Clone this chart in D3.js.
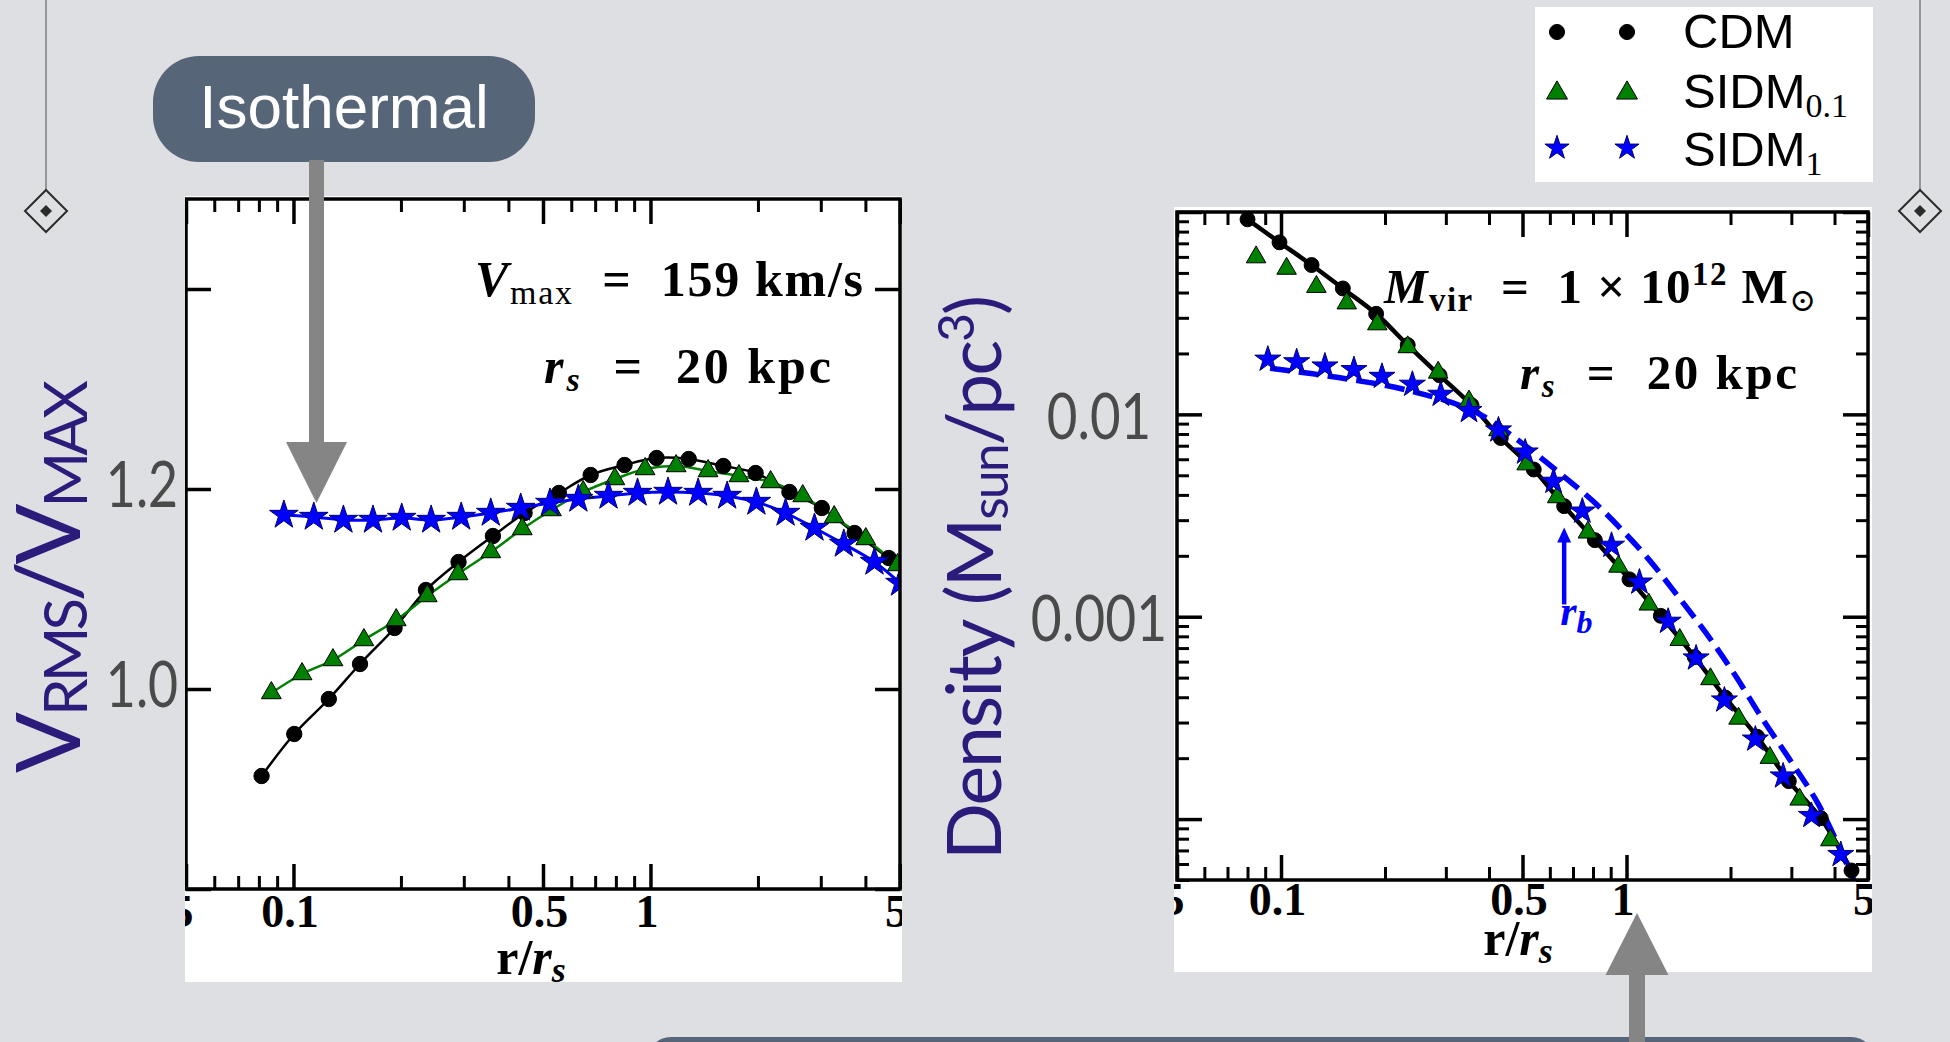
<!DOCTYPE html>
<html>
<head>
<meta charset="utf-8">
<script src="https://cdn.jsdelivr.net/npm/d3@7"></script>
<style>
  html, body { margin: 0; padding: 0; background: #dedfe2; overflow: hidden; }
  svg { display: block; }
  text { white-space: pre; }
</style>
</head>
<body>
<script>
// r / r_s ticks, same for both panels
var rTicksMajor = [0.05, 0.1, 0.5, 1, 5];
var rTickLabels = ['0.05', '0.1', '0.5', '1', '5'];
var rTicksMinor = [0.06, 0.07, 0.08, 0.09, 0.2, 0.3, 0.4, 0.6, 0.7, 0.8, 0.9, 2, 3, 4];

// left panel: V_RMS / V_MAX
var vTicks = [0.8, 1.0, 1.2, 1.4];
var vLabelTicks = [1.0, 1.2];
var vLabels = ['1.0', '1.2'];

var vCdmR = [0.0814, 0.1005, 0.1256, 0.1536, 0.192, 0.235, 0.29, 0.362, 0.444, 0.554, 0.68, 0.846, 1.04, 1.28, 1.6, 1.97, 2.45, 3.02, 3.73, 4.65];
var vCdm = [0.913, 0.955, 0.990, 1.025, 1.061, 1.099, 1.127, 1.153, 1.176, 1.196, 1.214, 1.224, 1.231, 1.230, 1.223, 1.216, 1.197, 1.181, 1.156, 1.131];

var vSidm01R = [0.0867, 0.1057, 0.129, 0.1575, 0.194, 0.237, 0.289, 0.357, 0.4375, 0.528, 0.648, 0.795, 0.966, 1.18, 1.45, 1.77, 2.17, 2.67, 3.27, 4.01, 4.92];
var vSidm01 = [0.996, 1.015, 1.029, 1.049, 1.069, 1.093, 1.115, 1.137, 1.160, 1.179, 1.197, 1.210, 1.220, 1.223, 1.218, 1.213, 1.207, 1.193, 1.172, 1.150, 1.124];

var vSidm1R = [0.094, 0.114, 0.138, 0.167, 0.201, 0.243, 0.295, 0.357, 0.433, 0.523, 0.628, 0.763, 0.92, 1.12, 1.36, 1.64, 1.98, 2.39, 2.88, 3.48, 4.24, 5.0];
var vSidm1 = [1.174, 1.172, 1.169, 1.169, 1.171, 1.169, 1.172, 1.176, 1.181, 1.186, 1.190, 1.193, 1.196, 1.197, 1.196, 1.193, 1.187, 1.176, 1.161, 1.145, 1.127, 1.106];

// right panel: density in M_sun / pc^3
var rhoLabelTicks = [1e-2, 1e-3];
var rhoLabels = ['0.01', '0.001'];

var rhoCdmR = [0.080, 0.099, 0.1226, 0.151, 0.1885, 0.2327, 0.2877, 0.356, 0.4325, 0.539, 0.66, 0.81, 1.02, 1.257, 1.576, 1.93, 2.39, 2.95, 3.65, 4.48];
var rhoCdm = [0.092, 0.0708, 0.0547, 0.0419, 0.0314, 0.0220, 0.0156, 0.0111, 0.00764, 0.00534, 0.00352, 0.00239, 0.00153, 0.00101, 0.000632, 0.000399, 0.000255, 0.000154, 0.000101, 0.0000557];

var rhoSidm01R = [0.0847, 0.1038, 0.1266, 0.155, 0.19, 0.2327, 0.285, 0.35, 0.426, 0.514, 0.63, 0.773, 0.948, 1.16, 1.426, 1.75, 2.11, 2.6, 3.17, 3.89];
var rhoSidm01 = [0.0598, 0.0525, 0.0427, 0.0354, 0.0279, 0.0215, 0.0161, 0.0116, 0.00836, 0.00567, 0.0039, 0.00261, 0.00177, 0.00115, 0.000769, 0.000492, 0.000314, 0.000201, 0.000125, 0.0000787];

var rhoSidm1R = [0.0916, 0.111, 0.134, 0.1626, 0.196, 0.24, 0.29, 0.35, 0.426, 0.509, 0.615, 0.745, 0.905, 1.09, 1.32, 1.59, 1.92, 2.36, 2.84, 3.43, 4.17];
var rhoSidm1 = [0.0187, 0.01815, 0.0173, 0.0166, 0.01538, 0.01406, 0.01254, 0.01043, 0.00836, 0.0065, 0.00466, 0.00332, 0.00225, 0.00148, 0.000948, 0.000624, 0.000387, 0.000248, 0.000163, 0.000104, 0.0000667];

// dashed cored fit for SIDM_1
var rhoFitR = [0.093, 0.1467, 0.235, 0.364, 0.498, 0.64, 0.798, 0.963, 1.163, 1.40, 1.69, 2.05, 2.47, 2.98, 3.6, 4.55];
var rhoFit = [0.0169, 0.0152, 0.0131, 0.0103, 0.00721, 0.00513, 0.00374, 0.00272, 0.00191, 0.00128, 0.000841, 0.000522, 0.000314, 0.000195, 0.0001175, 0.00005];

// r_b marker arrow
var rbR = 0.66, rbLow = 0.00115, rbHigh = 0.00276;

var legendNames = ['CDM', 'SIDM', 'SIDM'];
var legendSubs = ['', '0.1', '1'];

var W = 1950, H = 1042;
var SERIF = 'Liberation Serif, Times New Roman, serif';
var SANS = 'Liberation Sans, Arial, sans-serif';
var GILL = 'Lato, Open Sans, sans-serif';
var PURPLE = '#2b1b7b', SLATE = '#576578', ARROW = '#858585', GREY = '#4a4a4a';

var svg = d3.select('body').append('svg').attr('width', W).attr('height', H);
var defs = svg.append('defs');
svg.append('rect').attr('width', W).attr('height', H).attr('fill', '#dedfe2');

function diamond(cx, cy, r) {
  return 'M' + cx + ',' + (cy - r) + 'L' + (cx + r) + ',' + cy + 'L' + cx + ',' + (cy + r) + 'L' + (cx - r) + ',' + cy + 'Z';
}

// slide ornaments
[46, 1920].forEach(function (cx) {
  svg.append('line').attr('x1', cx).attr('x2', cx).attr('y1', 0).attr('y2', 190)
    .attr('stroke', '#7d7d7d').attr('stroke-width', 1.5);
  svg.append('path').attr('d', diamond(cx, 211, 21)).attr('fill', 'none')
    .attr('stroke', '#2b2b2b').attr('stroke-width', 2);
  svg.append('path').attr('d', diamond(cx, 211, 6)).attr('fill', '#2b2b2b');
});

// text made of pieces (sub/superscripts, italics)
function richText(parent, x, y, parts, o) {
  var t = parent.append('text').attr('x', x).attr('y', y)
    .attr('font-family', o.font).attr('fill', o.fill || '#000');
  if (o.anchor) t.attr('text-anchor', o.anchor);
  var cur = 0;
  parts.forEach(function (p) {
    var s = t.append('tspan').text(p.t).attr('font-size', p.size);
    var sh = p.shift || 0;
    if (sh !== cur) s.attr('dy', sh - cur);
    cur = sh;
    if (p.italic) s.attr('font-style', 'italic');
    if (o.bold && !p.light) s.attr('font-weight', 'bold');
    if (p.font) s.attr('font-family', p.font);
  });
  if (o.length) t.attr('textLength', o.length).attr('lengthAdjust', o.adjust || 'spacing');
  return t;
}

function styleTicks(sel, w) {
  sel.select('.domain').remove();
  sel.selectAll('.tick line').attr('stroke', '#000').attr('stroke-width', w);
}

function makePanel(id, box, x, y, yMajor, yMinor, labelPad) {
  var L = x.range()[0], R = x.range()[1], B = y.range()[0], T = y.range()[1];
  defs.append('clipPath').attr('id', id + 'Box').append('rect')
    .attr('x', box[0]).attr('y', box[1]).attr('width', box[2] - box[0]).attr('height', box[3] - box[1]);
  defs.append('clipPath').attr('id', id + 'Plot').append('rect')
    .attr('x', L).attr('y', T).attr('width', R - L).attr('height', B - T);
  var g = svg.append('g').attr('clip-path', 'url(#' + id + 'Box)');
  g.append('rect').attr('x', box[0]).attr('y', box[1])
    .attr('width', box[2] - box[0]).attr('height', box[3] - box[1]).attr('fill', '#fff');

  var xb = g.append('g').attr('transform', 'translate(0,' + B + ')')
    .call(d3.axisBottom(x).tickValues(rTicksMajor).tickSize(-25).tickPadding(labelPad)
      .tickFormat(function (d, i) { return rTickLabels[i]; }));
  styleTicks(xb, 3.5);
  xb.selectAll('text').attr('font-family', SERIF).attr('font-weight', 'bold')
    .attr('font-size', 46).attr('fill', '#000').attr('dx', -4);
  xb.selectAll('text').filter(function (d) { return d === rTicksMajor[0]; })
    .attr('text-anchor', 'end').attr('dx', 7);
  styleTicks(g.append('g').attr('transform', 'translate(0,' + B + ')')
    .call(d3.axisBottom(x).tickValues(rTicksMinor).tickSize(-13).tickFormat('')), 3);
  styleTicks(g.append('g').attr('transform', 'translate(0,' + T + ')')
    .call(d3.axisTop(x).tickValues(rTicksMajor).tickSize(-25).tickFormat('')), 3.5);
  styleTicks(g.append('g').attr('transform', 'translate(0,' + T + ')')
    .call(d3.axisTop(x).tickValues(rTicksMinor).tickSize(-13).tickFormat('')), 3);

  styleTicks(g.append('g').attr('transform', 'translate(' + L + ',0)')
    .call(d3.axisLeft(y).tickValues(yMajor).tickSize(-25).tickFormat('')), 3.5);
  styleTicks(g.append('g').attr('transform', 'translate(' + R + ',0)')
    .call(d3.axisRight(y).tickValues(yMajor).tickSize(-25).tickFormat('')), 3.5);
  if (yMinor.length) {
    styleTicks(g.append('g').attr('transform', 'translate(' + L + ',0)')
      .call(d3.axisLeft(y).tickValues(yMinor).tickSize(-12).tickFormat('')), 3);
    styleTicks(g.append('g').attr('transform', 'translate(' + R + ',0)')
      .call(d3.axisRight(y).tickValues(yMinor).tickSize(-12).tickFormat('')), 3);
  }
  var plot = g.append('g').attr('clip-path', 'url(#' + id + 'Plot)');
  return {
    g: g, plot: plot,
    frame: function () {
      g.append('rect').attr('x', L).attr('y', T).attr('width', R - L).attr('height', B - T)
        .attr('fill', 'none').attr('stroke', '#000').attr('stroke-width', 3.5);
    }
  };
}

var markerStyle = {
  cdm: { type: d3.symbolCircle, fill: '#000', stroke: '#000' },
  s01: { type: d3.symbolTriangle, fill: '#008000', stroke: '#000' },
  s1: { type: d3.symbolStar, fill: '#0000ff', stroke: '#00006e' }
};

function drawLine(plot, x, y, rs, vs, color, w, dash) {
  var ln = d3.line().curve(d3.curveCatmullRom)
    .x(function (d) { return x(d[0]); }).y(function (d) { return y(d[1]); });
  var p = plot.append('path').datum(d3.zip(rs, vs)).attr('d', ln)
    .attr('fill', 'none').attr('stroke', color).attr('stroke-width', w);
  if (dash) p.attr('stroke-dasharray', dash);
}

function drawMarkers(plot, x, y, rs, vs, st, size) {
  plot.append('g').selectAll('path').data(d3.zip(rs, vs)).join('path')
    .attr('transform', function (d) { return 'translate(' + x(d[0]) + ',' + y(d[1]) + ')'; })
    .attr('d', d3.symbol(st.type, size)).attr('fill', st.fill)
    .attr('stroke', st.stroke).attr('stroke-width', 1);
}

// ---------- left panel ----------
var xL = d3.scaleLog().domain([0.05, 5]).range([186, 900]);
var yL = d3.scaleLinear().domain([0.8, 1.49]).range([889, 199]);
var left = makePanel('left', [185, 196, 902, 982], xL, yL, vTicks, [], 5);
drawLine(left.plot, xL, yL, vCdmR, vCdm, '#000', 2.5);
drawLine(left.plot, xL, yL, vSidm01R, vSidm01, '#008000', 2.5);
drawLine(left.plot, xL, yL, vSidm1R, vSidm1, '#0000ff', 3);
drawMarkers(left.plot, xL, yL, vCdmR, vCdm, markerStyle.cdm, 185);
drawMarkers(left.plot, xL, yL, vSidm01R, vSidm01, markerStyle.s01, 170);
drawMarkers(left.plot, xL, yL, vSidm1R, vSidm1, markerStyle.s1, 255);
left.frame();

richText(left.g, 475, 296, [
  { t: 'V', size: 50, italic: true },
  { t: 'max', size: 34, shift: 8, light: true },
  { t: '  =  159 km/s', size: 50 }
], { font: SERIF, bold: true, length: 388 });
richText(left.g, 544, 383, [
  { t: 'r', size: 50, italic: true },
  { t: 's', size: 34, italic: true, shift: 8 },
  { t: '  =  20 kpc', size: 50 }
], { font: SERIF, bold: true, length: 287 });
richText(left.g, 531, 974, [
  { t: 'r/', size: 50 },
  { t: 'r', size: 50, italic: true },
  { t: 's', size: 36, italic: true, shift: 8 }
], { font: SERIF, bold: true, anchor: 'middle' });

// ---------- right panel ----------
var xR = d3.scaleLog().domain([0.05, 5]).range([1177, 1868]);
var yR = d3.scaleLog().domain([5e-5, 0.1]).range([880, 212]);
var rhoAll = yR.ticks();
var rhoMajor = rhoAll.filter(function (d) { return Math.abs(Math.log10(d) - Math.round(Math.log10(d))) < 1e-6; });
var rhoMinor = rhoAll.filter(function (d) { return rhoMajor.indexOf(d) < 0; });
var right = makePanel('right', [1174, 207, 1872, 972], xR, yR, rhoMajor, rhoMinor, 2);
drawLine(right.plot, xR, yR, rhoCdmR, rhoCdm, '#000', 4.5);
drawLine(right.plot, xR, yR, rhoFitR, rhoFit, '#0000ff', 5.5, '20,9');
drawMarkers(right.plot, xR, yR, rhoCdmR, rhoCdm, markerStyle.cdm, 175);
drawMarkers(right.plot, xR, yR, rhoSidm01R, rhoSidm01, markerStyle.s01, 165);
drawMarkers(right.plot, xR, yR, rhoSidm1R, rhoSidm1, markerStyle.s1, 210);

// r_b arrow
var rbX = xR(rbR), rbY0 = yR(rbLow), rbY1 = yR(rbHigh);
right.plot.append('line').attr('x1', rbX).attr('x2', rbX).attr('y1', rbY0).attr('y2', rbY1 + 12)
  .attr('stroke', '#0000ff').attr('stroke-width', 4.5);
right.plot.append('path')
  .attr('d', 'M' + rbX + ',' + rbY1 + 'L' + (rbX + 7) + ',' + (rbY1 + 15) + 'L' + (rbX - 7) + ',' + (rbY1 + 15) + 'Z')
  .attr('fill', '#0000ff');
richText(right.plot, rbX - 4, rbY0 + 21, [
  { t: 'r', size: 42, italic: true },
  { t: 'b', size: 32, italic: true, shift: 8 }
], { font: SERIF, bold: true, fill: '#0000ff' });
right.frame();

richText(right.g, 1384, 303, [
  { t: 'M', size: 49, italic: true },
  { t: 'vir', size: 33, shift: 8 },
  { t: '  =  1 \u00d7 10', size: 49 },
  { t: '12', size: 33, shift: -18 },
  { t: ' M', size: 49 },
  { t: '\u2299', size: 32, shift: 8, font: 'DejaVu Serif, serif', light: true }
], { font: SERIF, bold: true, length: 432 });
richText(right.g, 1520, 389, [
  { t: 'r', size: 49, italic: true },
  { t: 's', size: 33, italic: true, shift: 8 },
  { t: '  =  20 kpc', size: 49 }
], { font: SERIF, bold: true, length: 277 });
richText(right.g, 1518, 955, [
  { t: 'r/', size: 50 },
  { t: 'r', size: 50, italic: true },
  { t: 's', size: 36, italic: true, shift: 8 }
], { font: SERIF, bold: true, anchor: 'middle' });

// ---------- slide overlay labels ----------
function gillWidth(s, fs) {
  var w = 0;
  for (var i = 0; i < s.length; i++) w += s[i] === '1' ? 0.38 : (s[i] === '.' ? 0.25 : 0.5);
  return w * fs;
}
function slideTickLabels(yScale, vals, labels, cx, dy) {
  var a = svg.append('g').attr('transform', 'translate(' + cx + ',0)')
    .call(d3.axisLeft(yScale).tickValues(vals).tickSize(0).tickPadding(0)
      .tickFormat(function (d, i) { return labels[i]; }));
  a.select('.domain').remove();
  a.selectAll('text').attr('text-anchor', 'middle').attr('dy', dy).attr('x', 0)
    .attr('font-family', GILL).attr('font-size', 64).attr('fill', GREY)
    .attr('textLength', function (d, i) { return gillWidth(labels[i], 64); })
    .attr('lengthAdjust', 'spacingAndGlyphs');
}
slideTickLabels(yL, vLabelTicks, vLabels, 142, 17);
slideTickLabels(yR, rhoLabelTicks, rhoLabels, 1099, 24);

var yl1 = svg.append('g').attr('transform', 'translate(80,773) rotate(-90)');
richText(yl1, 0, 0, [
  { t: 'V', size: 90 },
  { t: 'RMS', size: 60, shift: 7 },
  { t: '/V', size: 90 },
  { t: 'MAX', size: 60, shift: 7 }
], { font: GILL, fill: PURPLE, length: 393 });

var yl2 = svg.append('g').attr('transform', 'translate(1001,860) rotate(-90)');
richText(yl2, 0, 0, [
  { t: 'Density (M', size: 75 },
  { t: 'sun', size: 52, shift: 7 },
  { t: '/pc', size: 75 },
  { t: '3', size: 50, shift: -27 },
  { t: ')', size: 75 }
], { font: GILL, fill: PURPLE, length: 565 });

// ---------- legend ----------
var lg = svg.append('g');
lg.append('rect').attr('x', 1535).attr('y', 7).attr('width', 338).attr('height', 175).attr('fill', '#fff');
var legendStyles = [markerStyle.cdm, markerStyle.s01, markerStyle.s1];
var legendSizes = [180, 190, 180];
var legendRowY = [32, 93, 148];
legendNames.forEach(function (name, i) {
  [1557, 1627].forEach(function (mx) {
    lg.append('path').attr('transform', 'translate(' + mx + ',' + legendRowY[i] + ')')
      .attr('d', d3.symbol(legendStyles[i].type, legendSizes[i]))
      .attr('fill', legendStyles[i].fill).attr('stroke', legendStyles[i].stroke).attr('stroke-width', 1);
  });
  var parts = [{ t: name, size: 49 }];
  if (legendSubs[i]) parts.push({ t: legendSubs[i], size: 34, shift: 9, font: SERIF });
  richText(lg, 1683, legendRowY[i] + 16 - (i === 1 ? 1 : 0) + (i === 2 ? 2 : 0), parts, { font: SANS });
});

// ---------- callouts and arrows ----------
svg.append('rect').attr('x', 153).attr('y', 56).attr('width', 382).attr('height', 106)
  .attr('rx', 46).attr('fill', SLATE);
svg.append('text').attr('x', 344).attr('y', 128).attr('text-anchor', 'middle')
  .attr('font-family', SANS).attr('font-size', 62).attr('fill', '#fff').text('Isothermal');

svg.append('rect').attr('x', 647).attr('y', 1037).attr('width', 1228).attr('height', 80)
  .attr('rx', 24).attr('fill', SLATE);

function blockArrow(cx, yTail, yTip, shaftW, headW, headL) {
  var s = yTip > yTail ? 1 : -1;
  var yBase = yTip - s * headL;
  return 'M' + (cx - shaftW / 2) + ',' + yTail + 'L' + (cx - shaftW / 2) + ',' + yBase +
    'L' + (cx - headW / 2) + ',' + yBase + 'L' + cx + ',' + yTip + 'L' + (cx + headW / 2) + ',' + yBase +
    'L' + (cx + shaftW / 2) + ',' + yBase + 'L' + (cx + shaftW / 2) + ',' + yTail + 'Z';
}
svg.append('path').attr('d', blockArrow(316.5, 160, 503, 15, 61, 61)).attr('fill', ARROW);
svg.append('path').attr('d', blockArrow(1637, 1042, 913, 16, 63, 62)).attr('fill', ARROW);
</script>
</body>
</html>
